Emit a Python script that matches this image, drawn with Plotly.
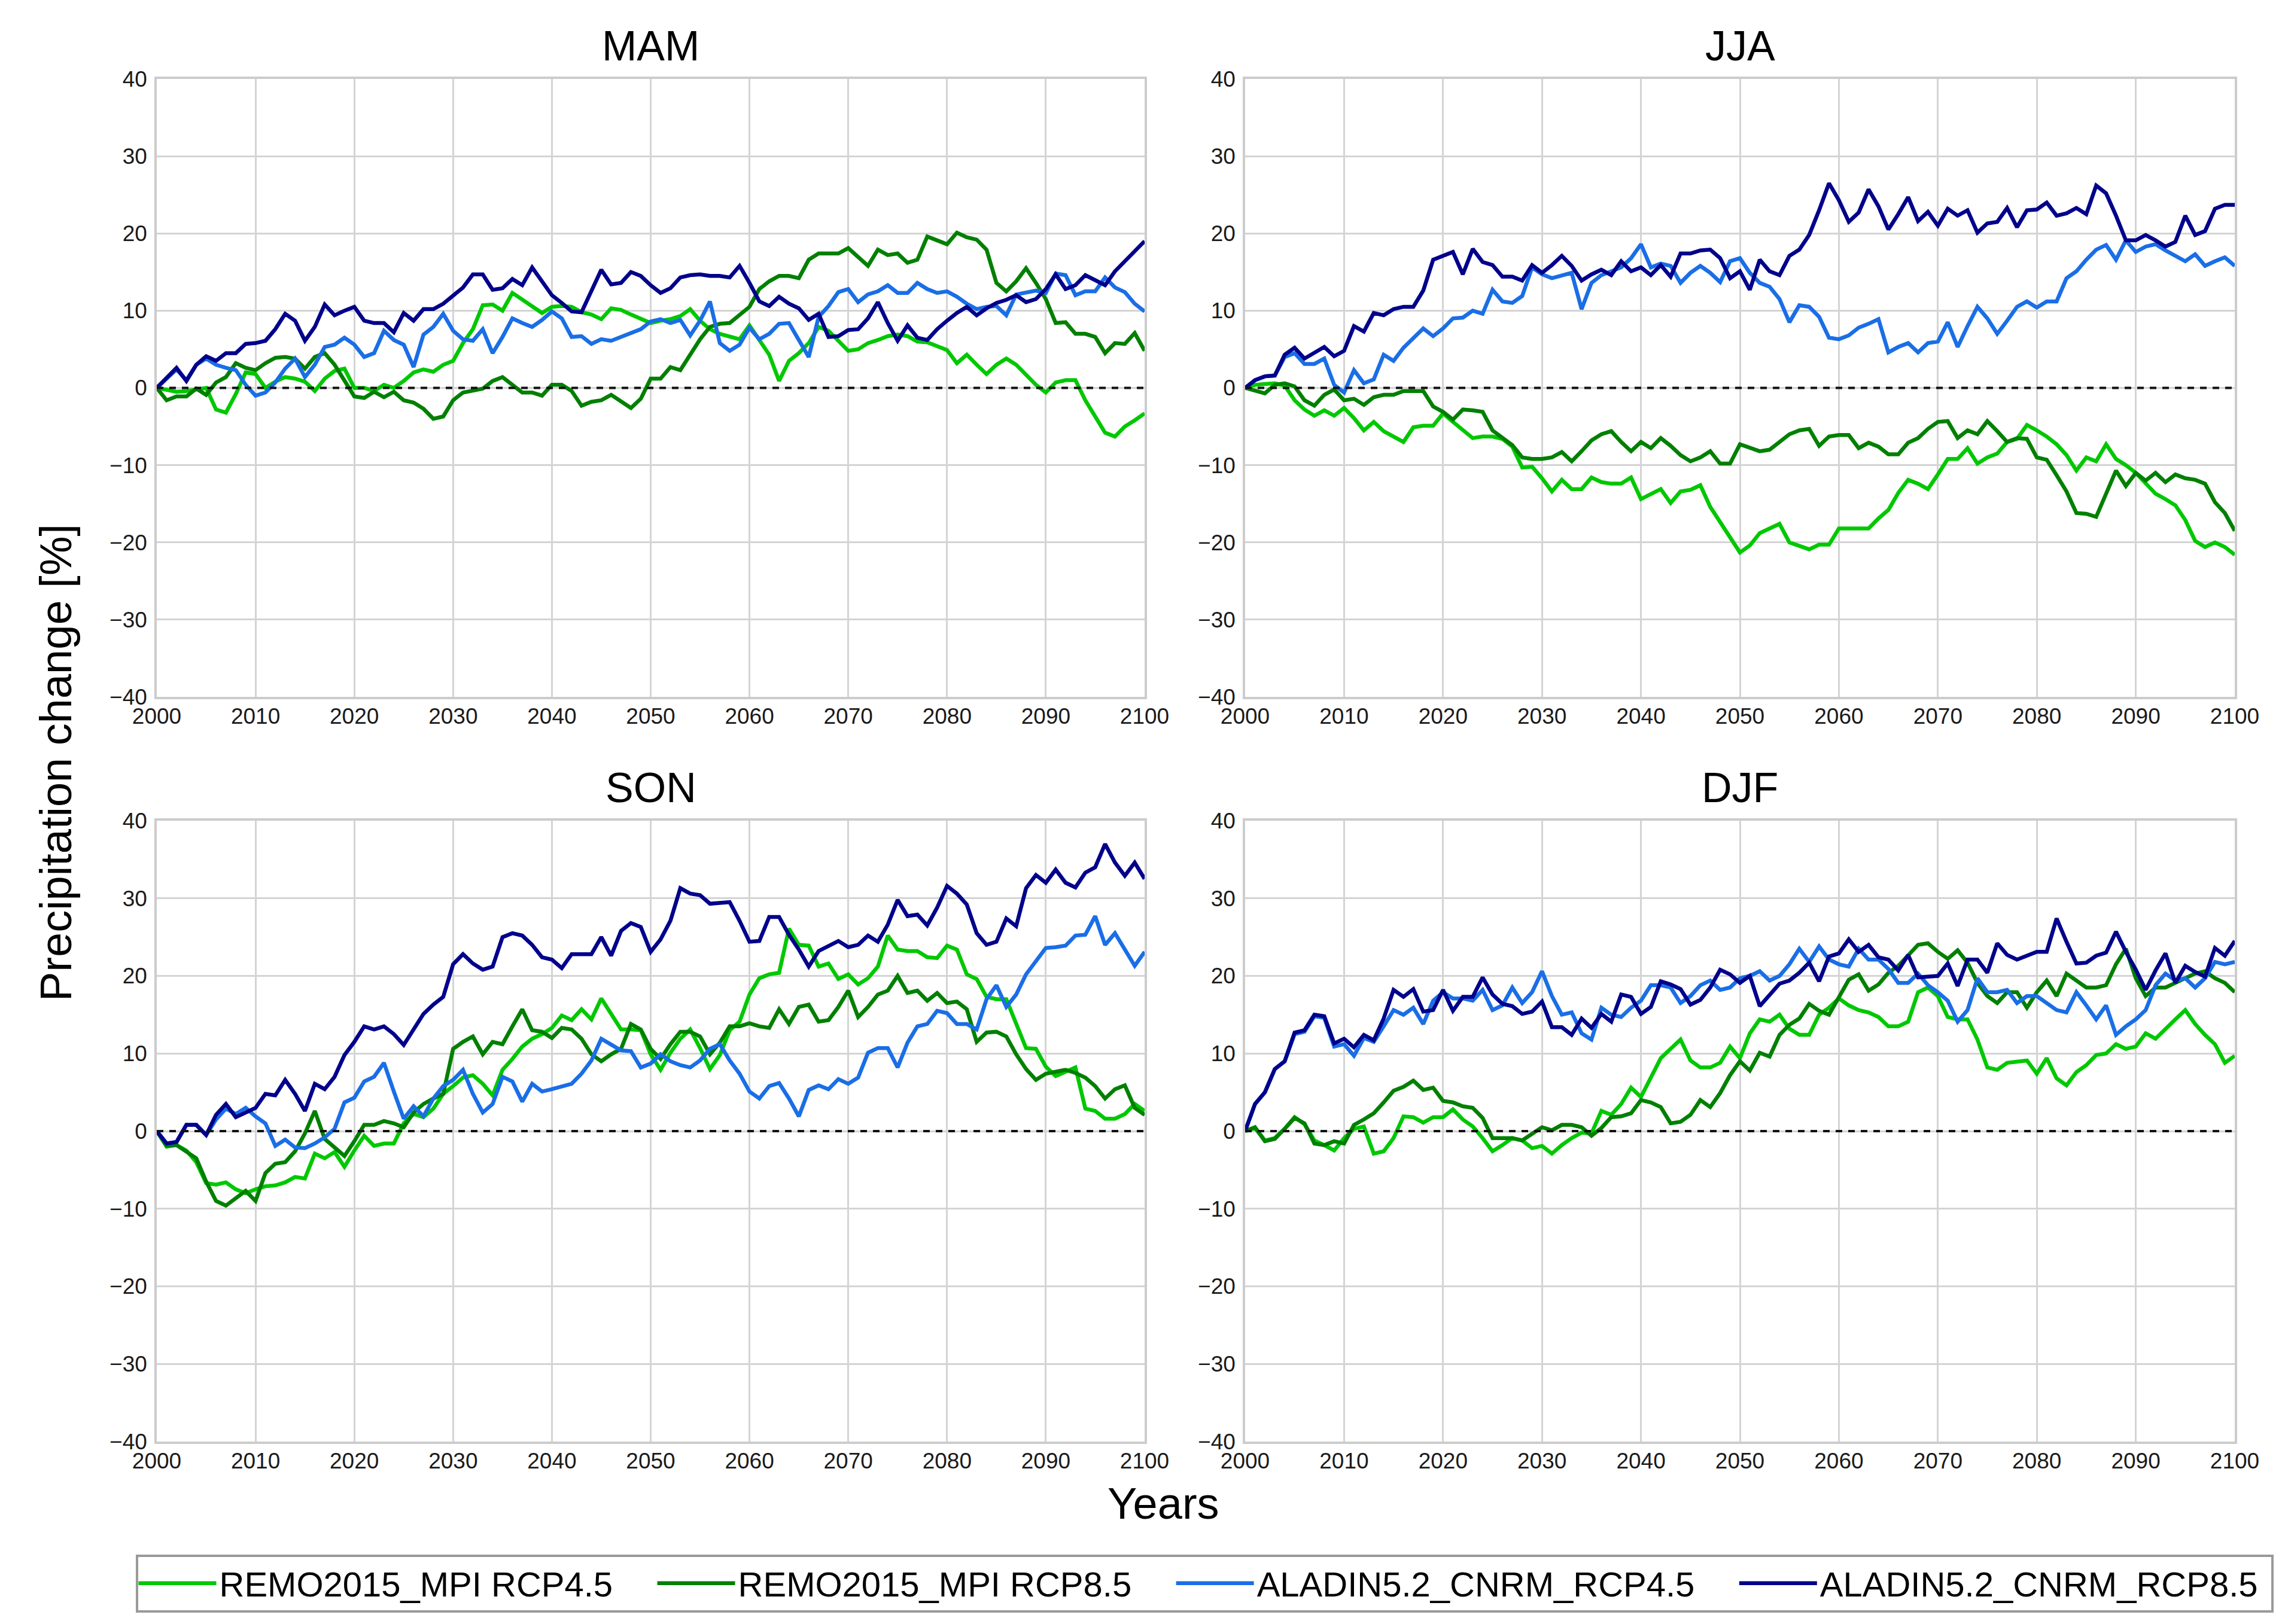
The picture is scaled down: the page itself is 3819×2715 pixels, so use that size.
import plotly.graph_objects as go

years = list(range(2000, 2101))
seasons = ["MAM", "JJA", "SON", "DJF"]
series_names = ["REMO2015_MPI RCP4.5", "REMO2015_MPI RCP8.5",
                "ALADIN5.2_CNRM_RCP4.5", "ALADIN5.2_CNRM_RCP8.5"]
x_ticks = list(range(2000, 2101, 10))
y_ticks = list(range(-40, 41, 10))

# ---------------- MAM ----------------
mam_remo45 = [
    0, -0.3, -0.5, -0.4, -0.2, 0, -2.8, -3.2, -0.8, 2.0,
    1.8, 0, 0.8, 1.4, 1.2, 0.8, -0.4, 1.2, 2.2, 2.5,
    0, 0, -0.4, 0.4, 0, 0.9, 2, 2.4, 2.1, 3,
    3.5, 5.8, 7.6, 10.7, 10.8, 10, 12.3, 11.4, 10.5, 9.7,
    10.5, 10.6, 10.5, 9.8, 9.5, 8.9, 10.3, 10.1, 9.5, 9,
    8.4, 8.7, 8.9, 9.3, 10.2, 8.7, 7.6, 7, 6.6, 6.3,
    8.1, 6.1, 4.3, 0.9, 3.5, 4.5, 5.8, 7.9, 7.4, 6.1,
    4.8, 5, 5.8, 6.2, 6.7, 6.9, 6.7, 6, 5.9, 5.4,
    4.9, 3.2, 4.3, 3, 1.8, 3, 3.8, 3, 1.7, 0.4,
    -0.6, 0.7, 1, 1, -1.6, -3.7, -5.8, -6.3, -5, -4.2,
    -3.3]
mam_remo85 = [
    0, -1.6, -1.1, -1.1, -0.1, -0.9, 0.7, 1.4, 3.2, 2.6,
    2.3, 3.2, 3.9, 4, 3.8, 2.5, 4, 4.5, 3, 0.9,
    -1.1, -1.3, -0.5, -1.2, -0.5, -1.6, -1.9, -2.7, -4, -3.7,
    -1.6, -0.6, -0.4, -0.1, 0.9, 1.4, 0.4, -0.6, -0.6, -1,
    0.4, 0.4, -0.4, -2.3, -1.8, -1.6, -0.9, -1.8, -2.6, -1.4,
    1.2, 1.2, 2.7, 2.3, 4.3, 6.3, 7.9, 8.3, 8.4, 9.4,
    10.5, 12.8, 13.8, 14.5, 14.5, 14.2, 16.6, 17.4, 17.4, 17.4,
    18.1, 16.9, 15.8, 17.9, 17.2, 17.4, 16.2, 16.6, 19.6, 19.1,
    18.6, 20.1, 19.5, 19.2, 17.9, 13.6, 12.5, 13.8, 15.5, 13.6,
    11.5, 8.4, 8.5, 7, 7, 6.6, 4.5, 5.8, 5.7, 7.1,
    4.8]
mam_al45 = [
    0, 1.2, 2.4, 1.0, 3, 3.8, 3, 2.6, 2.3, 0.4,
    -1, -0.6, 0.7, 2.5, 3.8, 1.4, 3, 5.3, 5.6, 6.5,
    5.6, 4, 4.5, 7.4, 6.2, 5.6, 2.7, 6.9, 7.9, 9.6,
    7.4, 6.3, 6.1, 7.6, 4.5, 6.6, 9, 8.4, 7.9, 8.8,
    9.9, 9, 6.6, 6.7, 5.7, 6.3, 6.1, 6.6, 7.1, 7.6,
    8.6, 8.9, 8.4, 8.8, 6.8, 8.7, 11.2, 5.8, 4.8, 5.6,
    7.8, 6.3, 7, 8.3, 8.4, 6.3, 4, 9.2, 10.6, 12.4,
    12.8, 11.1, 12.1, 12.5, 13.3, 12.3, 12.3, 13.6, 12.8, 12.3,
    12.5, 11.8, 10.9, 10.2, 10.5, 10.6, 9.4, 12.1, 12.3, 12.6,
    12.3, 14.8, 14.6, 12, 12.5, 12.5, 14.3, 13, 12.4, 10.9,
    9.9]
mam_al85 = [
    0, 1.3, 2.6, 0.9, 3, 4.1, 3.5, 4.5, 4.5, 5.7,
    5.8, 6.1, 7.6, 9.6, 8.7, 6.1, 7.9, 10.8, 9.4, 10,
    10.5, 8.7, 8.4, 8.4, 7.2, 9.7, 8.7, 10.2, 10.2, 10.9,
    11.9, 13, 14.7, 14.7, 12.7, 12.9, 14.1, 13.3, 15.6, 13.9,
    12, 11, 9.9, 9.8, 12.5, 15.3, 13.4, 13.6, 15, 14.5,
    13.3, 12.3, 12.9, 14.3, 14.6, 14.7, 14.5, 14.5, 14.3, 15.8,
    13.6, 11.2, 10.6, 11.8, 10.9, 10.3, 8.8, 9.6, 6.6, 6.7,
    7.5, 7.6, 9, 11.1, 8.4, 6.1, 8.1, 6.5, 6.2, 7.6,
    8.7, 9.7, 10.5, 9.4, 10.3, 11, 11.4, 12, 11.1, 11.5,
    12.8, 14.7, 12.8, 13.3, 14.6, 13.9, 13.3, 15.1, 16.4, 17.7,
    19]

# ---------------- JJA ----------------
jja_remo45 = [
    0, 0.4, 0.5, 0.6, 0.3, -1.6, -2.8, -3.6, -2.9, -3.6,
    -2.6, -3.9, -5.5, -4.4, -5.6, -6.3, -7, -5.1, -4.9, -4.9,
    -3.3, -4.4, -5.5, -6.5, -6.3, -6.3, -6.6, -7.6, -10.3, -10.2,
    -11.7, -13.4, -11.9, -13.1, -13.1, -11.6, -12.2, -12.4, -12.4, -11.6,
    -14.4, -13.7, -13.1, -14.9, -13.4, -13.2, -12.6, -15.4, -17.4, -19.4,
    -21.3, -20.4, -18.8, -18.2, -17.6, -20, -20.4, -20.9, -20.3, -20.3,
    -18.2, -18.2, -18.2, -18.2, -16.9, -15.8, -13.6, -11.9, -12.4, -13.1,
    -11.2, -9.2, -9.2, -7.8, -9.8, -9, -8.5, -7, -6.6, -4.8,
    -5.5, -6.3, -7.3, -8.7, -10.7, -9, -9.5, -7.3, -9.2, -10,
    -11, -12.4, -13.7, -14.4, -15.2, -17.1, -19.8, -20.6, -20, -20.6,
    -21.6]
jja_remo85 = [
    0, -0.3, -0.7, 0.4, 0.6, 0.2, -1.6, -2.3, -0.9, -0.2,
    -1.6, -1.4, -2.2, -1.2, -0.9, -0.9, -0.4, -0.4, -0.4, -2.4,
    -3.1, -4.1, -2.8, -2.9, -3.1, -5.5, -6.4, -7.4, -9, -9.2,
    -9.2, -9, -8.3, -9.5, -8.2, -6.8, -6, -5.6, -7, -8.2,
    -7, -7.8, -6.5, -7.5, -8.7, -9.5, -9, -8.2, -9.8, -9.8,
    -7.3, -7.8, -8.2, -8, -7, -6, -5.5, -5.3, -7.5, -6.3,
    -6.1, -6.1, -7.8, -7.1, -7.6, -8.6, -8.6, -7.1, -6.5, -5.3,
    -4.4, -4.3, -6.5, -5.5, -6, -4.3, -5.6, -7, -6.5, -6.6,
    -9, -9.3, -11.3, -13.4, -16.2, -16.3, -16.7, -13.7, -10.7, -12.7,
    -11, -12, -11, -12.2, -11.2, -11.7, -11.9, -12.4, -14.8, -16.2,
    -18.5]
jja_al45 = [
    0, 1, 1.5, 1.6, 4, 4.5, 3.1, 3.1, 3.8, 0.4,
    -0.6, 2.3, 0.6, 1.1, 4.3, 3.5, 5.2, 6.5, 7.7, 6.7,
    7.7, 9, 9.1, 10, 9.6, 12.7, 11.2, 11, 11.9, 15.6,
    14.7, 14.2, 14.6, 14.9, 10.2, 13.6, 14.6, 15.1, 15.6, 16.8,
    18.6, 15.6, 16.1, 15.8, 13.6, 14.9, 15.8, 14.9, 13.7, 16.4,
    16.8, 14.9, 13.6, 13.1, 11.5, 8.5, 10.7, 10.5, 9.2, 6.5,
    6.3, 6.8, 7.8, 8.3, 8.9, 4.6, 5.3, 5.8, 4.6, 5.8,
    6, 8.5, 5.3, 8, 10.5, 9, 7, 8.7, 10.5, 11.2,
    10.4, 11.2, 11.2, 14.2, 15.1, 16.6, 17.9, 18.5, 16.6, 19.1,
    17.6, 18.3, 18.6, 17.8, 17.1, 16.4, 17.3, 15.8, 16.4, 16.9,
    15.8]
jja_al85 = [
    0, 1, 1.5, 1.6, 4.3, 5.2, 3.8, 4.5, 5.3, 4.1,
    4.8, 8, 7.3, 9.7, 9.4, 10.2, 10.5, 10.5, 12.6, 16.6,
    17.1, 17.6, 14.7, 18, 16.3, 15.9, 14.4, 14.4, 13.9, 15.9,
    14.9, 15.9, 17.1, 15.8, 13.9, 14.7, 15.3, 14.6, 16.4, 15.1,
    15.6, 14.6, 15.9, 14.4, 17.4, 17.4, 17.8, 17.9, 16.8, 14.2,
    15.1, 12.7, 16.6, 15.1, 14.6, 17.1, 17.9, 19.8, 23, 26.5,
    24.3, 21.5, 22.7, 25.7, 23.5, 20.5, 22.5, 24.7, 21.6, 22.8,
    21, 23.2, 22.3, 23, 20.1, 21.3, 21.5, 23.3, 20.8, 23,
    23.1, 24, 22.3, 22.6, 23.3, 22.5, 26.2, 25.2, 22.3, 19.1,
    19.1, 19.8, 19.1, 18.3, 18.9, 22.3, 19.8, 20.3, 23.2, 23.7,
    23.7]

# ---------------- SON ----------------
son_remo45 = [
    0, -2, -1.8, -2.5, -4, -6.7, -6.9, -6.6, -7.5, -8,
    -7.5, -7.1, -7, -6.6, -5.9, -6.1, -2.9, -3.5, -2.7, -4.6,
    -2.5, -0.6, -1.9, -1.6, -1.6, 1, 2.2, 1.8, 2.9, 4.8,
    5.8, 6.9, 7.2, 6.1, 4.6, 7.9, 9.3, 10.9, 11.9, 12.5,
    13.3, 14.9, 14.3, 15.7, 14.4, 17.1, 15.1, 13.1, 13.1, 13,
    9.9, 7.9, 10.1, 11.9, 13.1, 10.7, 8, 9.8, 13, 14.1,
    17.6, 19.7, 20.2, 20.4, 26.1, 24, 23.9, 21.2, 21.6, 19.6,
    20.2, 18.9, 19.7, 21.2, 25.2, 23.4, 23.2, 23.2, 22.4, 22.3,
    23.9, 23.4, 20.2, 19.6, 17.3, 17, 17, 13.8, 10.7, 10.6,
    8.3, 7.1, 7.7, 8.2, 2.9, 2.6, 1.6, 1.6, 2.2, 3.5,
    2.6]
son_remo85 = [
    0, -1.9, -1.8, -2.6, -3.5, -6.5, -9, -9.6, -8.7, -7.7,
    -9, -5.4, -4.2, -4, -2.6, -0.3, 2.6, -1, -2.1, -3.2,
    -1.3, 0.8, 0.8, 1.3, 1, 0.5, 2.4, 3.5, 4.2, 4.8,
    10.6, 11.5, 12.2, 9.9, 11.5, 11.2, 13.5, 15.7, 13, 12.8,
    12, 13.3, 13.1, 11.9, 9.9, 9, 9.9, 10.6, 13.8, 13.1,
    10.6, 9.3, 11.2, 12.8, 12.8, 12.2, 9.9, 11.4, 13.5, 13.5,
    13.9, 13.5, 13.3, 15.7, 13.8, 16, 16.3, 14.1, 14.3, 16,
    18.1, 14.7, 16, 17.6, 18.1, 20, 17.8, 18.1, 16.8, 17.8,
    16.5, 16.7, 15.7, 11.5, 12.7, 12.8, 12.2, 9.9, 8, 6.6,
    7.4, 7.7, 7.9, 7.5, 6.9, 5.8, 4.2, 5.4, 5.9, 3,
    2.1]
son_al45 = [
    0, -1.6, -1.4, 0.8, 0.8, -0.5, 1.5, 2.9, 2.2, 3,
    1.9, 1, -1.9, -1.1, -2.1, -2.2, -1.6, -0.8, 0.3, 3.7,
    4.3, 6.4, 7, 8.8, 5.1, 1.6, 3.2, 1.9, 4.2, 5.8,
    6.6, 7.9, 4.8, 2.4, 3.5, 7, 6.4, 3.8, 6.1, 5.1,
    5.4, 5.8, 6.1, 7.4, 9.1, 11.9, 11.1, 10.4, 10.3, 8.2,
    8.7, 9.9, 9, 8.5, 8.2, 9.1, 10.6, 11.2, 9.1, 7.4,
    5.1, 4.2, 5.8, 6.2, 4.2, 1.9, 5.3, 5.9, 5.4, 6.7,
    6.1, 6.9, 10.1, 10.7, 10.7, 8.2, 11.4, 13.5, 13.8, 15.5,
    15.2, 13.8, 13.8, 13.1, 17, 18.8, 16, 17.6, 20.2, 22,
    23.6, 23.7, 23.9, 25.2, 25.3, 27.7, 24, 25.5, 23.4, 21.3,
    23.1]
son_al85 = [
    0, -1.6, -1.4, 0.8, 0.8, -0.5, 2.1, 3.5, 1.8, 2.4,
    3, 4.8, 4.6, 6.6, 4.8, 2.6, 6.1, 5.4, 7, 9.8,
    11.5, 13.5, 13.1, 13.5, 12.5, 11.1, 13.1, 15.1, 16.3, 17.3,
    21.5, 22.8, 21.6, 20.8, 21.2, 25, 25.5, 25.2, 24, 22.4,
    22.1, 21, 22.8, 22.8, 22.8, 25, 22.6, 25.8, 26.8, 26.3,
    23.1, 24.7, 27.1, 31.3, 30.6, 30.4, 29.3, 29.4, 29.5, 27.1,
    24.4, 24.5, 27.6, 27.6, 25.3, 23.4, 21.2, 23.2, 23.9, 24.5,
    23.7, 24, 25.2, 24.4, 26.6, 29.8, 27.7, 27.9, 26.5, 28.8,
    31.6, 30.6, 29.2, 25.5, 24, 24.4, 27.4, 26.4, 31.3, 33,
    32, 33.7, 32, 31.4, 33.3, 34, 37, 34.6, 32.9, 34.6,
    32.5]

# ---------------- DJF ----------------
djf_remo45 = [
    0, 0.4, -1.2, -0.9, 0.3, 1.8, 0.9, -1.2, -1.8, -2.5,
    -0.9, 0.3, 0.6, -2.9, -2.6, -0.9, 1.9, 1.8, 1.1, 1.8,
    1.8, 2.8, 1.5, 0.6, -0.9, -2.6, -1.8, -0.9, -1.2, -2.2,
    -1.9, -2.9, -1.8, -0.9, -0.2, -0.3, 2.6, 2.1, 3.5, 5.6,
    4.4, 6.8, 9.4, 10.6, 11.8, 9.1, 8.2, 8.2, 8.8, 10.9,
    9.4, 12.6, 14.4, 14.1, 15, 13.2, 12.4, 12.4, 15, 15.9,
    17.1, 16.2, 15.6, 15.3, 14.7, 13.5, 13.5, 14.1, 17.9, 18.5,
    17.4, 14.7, 14.4, 14.4, 11.8, 8.2, 7.9, 8.8, 9, 9.1,
    7.4, 9.4, 6.8, 5.9, 7.6, 8.5, 9.8, 10, 11.2, 10.6,
    10.9, 12.6, 11.9, 13.2, 14.4, 15.6, 13.8, 12.4, 11.2, 8.8,
    9.7]
djf_remo85 = [
    0, 0.5, -1.3, -1, 0.3, 1.7, 1, -1.6, -1.8, -1.3,
    -1.6, 0.8, 1.5, 2.3, 3.7, 5.2, 5.7, 6.5, 5.3, 5.6,
    3.9, 3.7, 3.2, 3, 1.7, -0.9, -0.9, -0.9, -1.2, -0.3,
    0.5, 0.1, 0.8, 0.8, 0.5, -0.6, 0.4, 1.8, 1.9, 2.3,
    4, 3.7, 3.1, 1, 1.2, 2.1, 4, 3.1, 4.9, 7.2,
    9, 7.8, 10.1, 9.6, 12.4, 13.7, 14.5, 16.4, 15.5, 15,
    17.3, 19.5, 20.2, 18.1, 18.9, 20.4, 21.3, 22.7, 24, 24.2,
    23.1, 22.2, 23.3, 21.7, 19.1, 17.4, 16.5, 17.9, 17.9, 15.9,
    17.9, 19.4, 17.4, 20.3, 19.4, 18.5, 18.5, 18.8, 21.5, 23.5,
    19.7, 17.4, 18.5, 18.5, 19.1, 19.7, 20.3, 20.6, 19.7, 19.1,
    17.9]
djf_al45 = [
    0, 3.5, 5, 8, 9, 12.5, 12.8, 14.8, 14.6, 10.9,
    11.2, 9.7, 12, 11.5, 13.5, 15.6, 15, 15.9, 13.8, 16.8,
    17.9, 17.1, 17.1, 16.8, 18.2, 15.6, 16.2, 18.5, 16.5, 17.9,
    20.6, 17.4, 15, 15.3, 12.6, 11.8, 15.9, 15, 14.7, 15.9,
    16.8, 18.8, 18.8, 18.5, 16.5, 17.4, 18.8, 19.4, 18.2, 18.5,
    19.7, 20, 20.6, 19.4, 20, 21.5, 23.5, 21.8, 23.8, 22.1,
    21.5, 21.2, 23.5, 22.1, 22.1, 20.9, 19.1, 19.1, 20.3, 18.8,
    17.9, 16.8, 14.1, 15.6, 19.7, 17.9, 17.9, 18.2, 16.5, 17.4,
    17.4, 16.5, 15.6, 15.3, 17.9, 16.2, 14.4, 16.2, 12.4, 13.5,
    14.4, 15.6, 18.8, 20.3, 19.4, 19.7, 18.5, 19.7, 21.8, 21.5,
    21.8]
djf_al85 = [
    0, 3.5, 5, 8, 9, 12.7, 13, 15, 14.8, 11.3,
    11.9, 10.8, 12.4, 11.7, 14.5, 18.2, 17.3, 18.3, 15.4, 15.6,
    18.2, 15.5, 17.3, 17.3, 19.8, 17.6, 16.4, 16.1, 15.1, 15.4,
    16.7, 13.4, 13.4, 12.4, 14.5, 13.3, 15.1, 14.1, 17.6, 17.3,
    15.1, 16, 19.3, 18.9, 18.3, 16.3, 16.9, 18.5, 20.8, 20.2,
    19.1, 20, 16.1, 17.6, 19, 19.4, 20.4, 21.7, 19.3, 22.5,
    22.9, 24.7, 23.1, 24, 22.4, 22.1, 20.7, 22.7, 19.8, 19.9,
    20, 21.6, 18.7, 22.1, 22.1, 20.4, 24.2, 22.7, 22.1, 22.6,
    23.1, 23.1, 27.4, 24.4, 21.6, 21.7, 22.6, 23, 25.7, 23.1,
    20.8, 18.2, 20.7, 22.9, 19.1, 21.3, 20.5, 19.9, 23.6, 22.6,
    24.5]

season_data = {
    "MAM": [mam_remo45, mam_remo85, mam_al45, mam_al85],
    "JJA": [jja_remo45, jja_remo85, jja_al45, jja_al85],
    "SON": [son_remo45, son_remo85, son_al45, son_al85],
    "DJF": [djf_remo45, djf_remo85, djf_al45, djf_al85],
}
for s, lst in season_data.items():
    for i, v in enumerate(lst):
        assert len(v) == len(years), (s, i, len(v))

colors = ["#00c800", "#008000", "#1a6ee6", "#00008b"]

W, H = 3819, 2715
xdom = [[254 / W, 1905 / W], [2073 / W, 3727 / W]]
ydom = [[1 - 1157 / H, 1 - 124 / H], [1 - 2402 / H, 1 - 1364 / H]]
FONT = "Liberation Sans, Arial, sans-serif"
NBSP = "\u00a0"

fig = go.Figure()
axis_ids = ["", "2", "3", "4"]
positions = [(0, 0), (1, 0), (0, 1), (1, 1)]

for k, season in enumerate(seasons):
    ax = axis_ids[k]
    for i, vals in enumerate(season_data[season]):
        label = series_names[i] + (NBSP * 4 if i < 3 else NBSP)
        fig.add_trace(go.Scatter(
            x=years, y=vals, mode="lines", name=label,
            line=dict(color=colors[i], width=6.5),
            showlegend=(k == 0), legendgroup=series_names[i],
            xaxis="x" + ax, yaxis="y" + ax, hoverinfo="skip"))
    fig.add_trace(go.Scatter(
        x=[years[0], years[-1]], y=[0, 0], mode="lines",
        line=dict(color="#111111", width=4, dash="11px,10px"),
        showlegend=False, xaxis="x" + ax, yaxis="y" + ax, hoverinfo="skip"))

layout = dict(
    width=W, height=H,
    margin=dict(l=0, r=0, t=0, b=0, autoexpand=False),
    paper_bgcolor="white", plot_bgcolor="white",
    font=dict(family=FONT, color="#000000"),
    showlegend=True,
    legend=dict(
        orientation="h", x=2005 / W, xanchor="center",
        y=1 - 2639 / H, yanchor="middle",
        font=dict(size=58, family=FONT, color="#000000"),
        bordercolor="#9a9a9a", borderwidth=4, bgcolor="white",
        itemwidth=130, tracegroupgap=0,
    ),
)
annotations = []
for k, season in enumerate(seasons):
    cx, cy = positions[k]
    ax = axis_ids[k]
    common = dict(showgrid=True, gridcolor="#d4d4d4", gridwidth=2.5,
                  zeroline=False, showline=True, linecolor="#cccccc",
                  linewidth=3.5, mirror=True, ticks="", automargin=False,
                  tickfont=dict(size=37, family=FONT, color="#1a1a1a"))
    layout["xaxis" + ax] = dict(
        domain=xdom[cx], anchor="y" + ax, range=[2000, 2100],
        tickmode="array", tickvals=x_ticks, ticklabelstandoff=-3, **common)
    layout["yaxis" + ax] = dict(
        domain=ydom[cy], anchor="x" + ax, range=[-40, 40],
        tickmode="array", tickvals=y_ticks, ticklabelstandoff=5, **common)
    annotations.append(dict(
        text=season, x=(xdom[cx][0] + xdom[cx][1]) / 2, y=ydom[cy][1],
        xref="paper", yref="paper", xanchor="center", yanchor="bottom",
        yshift=14, showarrow=False,
        font=dict(size=70, family=FONT, color="#000000")))

annotations.append(dict(
    text="Precipitation change [%]", x=85 / W, y=1 - 1267 / H,
    xref="paper", yref="paper", xanchor="center", yanchor="middle",
    textangle=-90, showarrow=False,
    font=dict(size=74, family=FONT, color="#000000")))
annotations.append(dict(
    text="Years", x=1936 / W, y=1 - 2505 / H,
    xref="paper", yref="paper", xanchor="center", yanchor="middle",
    showarrow=False, font=dict(size=74, family=FONT, color="#000000")))
layout["annotations"] = annotations

fig.update_layout(**layout)
fig.write_html("out.html")
